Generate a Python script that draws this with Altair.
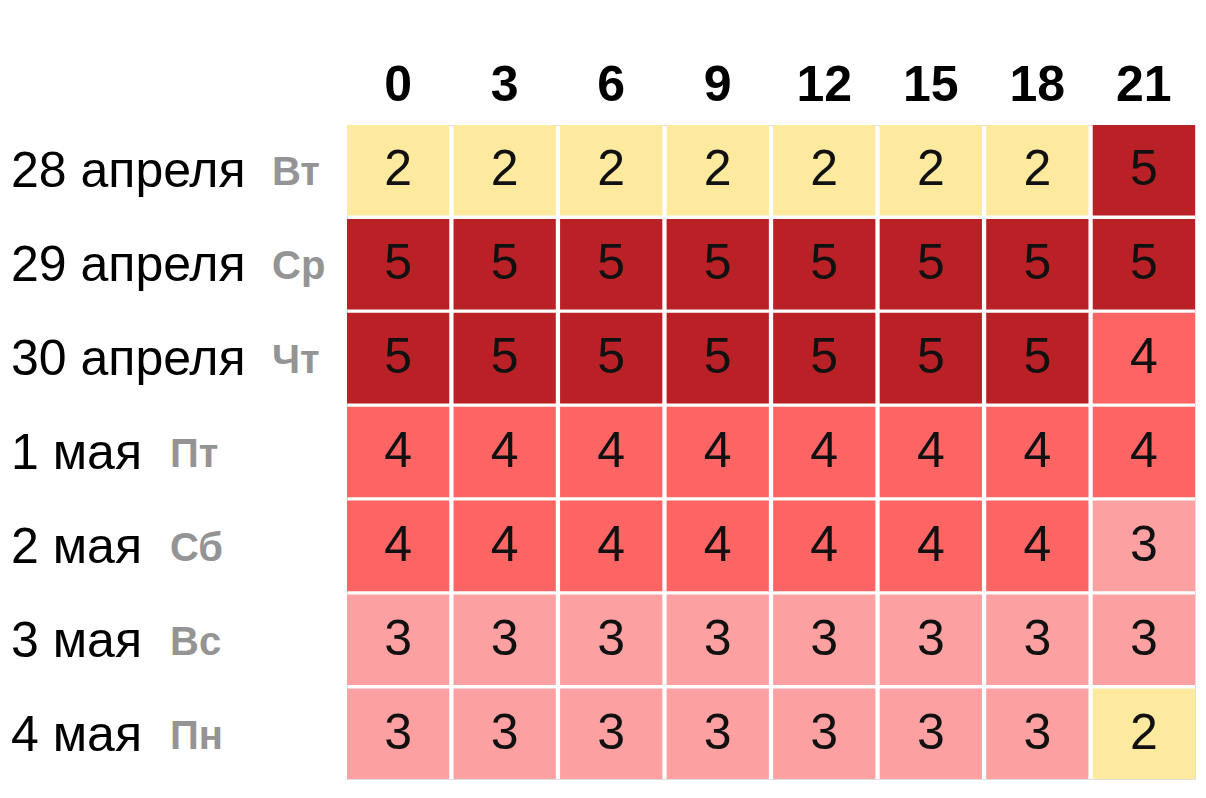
import altair as alt
import pandas as pd

hours = ["0", "3", "6", "9", "12", "15", "18", "21"]
dates = ["28 апреля", "29 апреля", "30 апреля", "1 мая", "2 мая", "3 мая", "4 мая"]
days = ["Вт", "Ср", "Чт", "Пт", "Сб", "Вс", "Пн"]
values = [
    [2, 2, 2, 2, 2, 2, 2, 5],
    [5, 5, 5, 5, 5, 5, 5, 5],
    [5, 5, 5, 5, 5, 5, 5, 4],
    [4, 4, 4, 4, 4, 4, 4, 4],
    [4, 4, 4, 4, 4, 4, 4, 3],
    [3, 3, 3, 3, 3, 3, 3, 3],
    [3, 3, 3, 3, 3, 3, 3, 2],
]

rows = []
for i, d in enumerate(dates):
    for j, h in enumerate(hours):
        rows.append({"date": d, "hour": h, "value": values[i][j]})
df = pd.DataFrame(rows)
labels = pd.DataFrame({"date": dates, "day": days})

FONT = "Liberation Sans"

x = alt.X("hour:N", sort=hours,
          scale=alt.Scale(paddingInner=0.04, paddingOuter=0),
          axis=alt.Axis(orient="top", title=None, labelAngle=0, ticks=False,
                        domain=False, labelFontSize=50, labelFontWeight="bold",
                        labelFont=FONT, labelColor="#000000", labelPadding=15))
y = alt.Y("date:N", sort=dates,
          scale=alt.Scale(paddingInner=0.035, paddingOuter=0),
          axis=None)

cells = alt.Chart(df).mark_rect().encode(
    x=x, y=y,
    color=alt.Color("value:O",
                    scale=alt.Scale(domain=[2, 3, 4, 5],
                                    range=["#FDEA9E", "#FDA0A2", "#FD6464", "#BA2126"]),
                    legend=None),
)

nums = alt.Chart(df).mark_text(font=FONT, fontSize=50, color="#111111",
                               baseline="middle").encode(
    x=x, y=y, text="value:Q")

date_lbl = alt.Chart(labels).mark_text(font=FONT, fontSize=50, color="#000000",
                                       align="left", baseline="middle", dy=2).encode(
    x=alt.value(-336), y=alt.Y("date:N", sort=dates, axis=None), text="date:N")

day_lbl = alt.Chart(labels).transform_calculate(
    px="-304.5 + length(datum.date) * 25.5"
).mark_text(font=FONT, fontSize=40, fontWeight="bold", color="#949494",
            align="left", baseline="middle", dy=3).encode(
    x=alt.X("px:Q", scale=None), y=alt.Y("date:N", sort=dates, axis=None),
    text="day:N")

chart = alt.layer(cells, nums, date_lbl, day_lbl).properties(
    width=848, height=654,
    autosize=alt.AutoSizeParams(type="none"),
    padding={"left": 347, "top": 125, "right": 11, "bottom": 19},
).configure_view(stroke=None).configure(background="#ffffff")

chart.save("out.html", embed_options={"renderer": "svg", "actions": False})
